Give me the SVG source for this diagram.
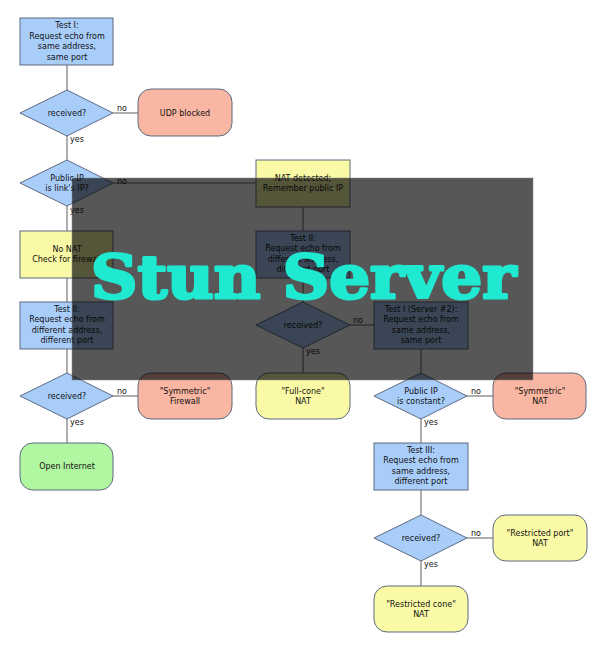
<svg xmlns="http://www.w3.org/2000/svg" width="600" height="660" viewBox="0 0 600 660">
<style>
.b{stroke:#5d6b80;stroke-width:1}
.blue{fill:#a9cdf9}
.red{fill:#f9b6a2}
.yel{fill:#fafaa6}
.grn{fill:#b1f6a1}
.t{font-family:"DejaVu Sans",Verdana,sans-serif;font-size:8px;fill:#111;text-anchor:middle}
.l{font-family:"DejaVu Sans",Verdana,sans-serif;font-size:8px;fill:#111}
.c line{stroke:#777;stroke-width:1.2}
</style>
<rect width="600" height="660" fill="#fff"/>
<g class="c" id="connectors">
<line x1="67" y1="65" x2="67" y2="90"/>
<line x1="113" y1="113" x2="138" y2="113"/>
<line x1="67" y1="136" x2="67" y2="160"/>
<line x1="113" y1="183" x2="256" y2="183"/>
<line x1="67" y1="206" x2="67" y2="231"/>
<line x1="67" y1="277" x2="67" y2="302"/>
<line x1="67" y1="348" x2="67" y2="373"/>
<line x1="113" y1="396" x2="138" y2="396"/>
<line x1="67" y1="419" x2="67" y2="443"/>
<line x1="303" y1="207" x2="303" y2="231"/>
<line x1="303" y1="278" x2="303" y2="302"/>
<line x1="350" y1="325" x2="374" y2="325"/>
<line x1="303" y1="348" x2="303" y2="373"/>
<line x1="421" y1="349" x2="421" y2="373"/>
<line x1="467" y1="396" x2="493" y2="396"/>
<line x1="421" y1="419" x2="421" y2="443"/>
<line x1="421" y1="490" x2="421" y2="515"/>
<line x1="467" y1="538" x2="493" y2="538"/>
<line x1="421" y1="561" x2="421" y2="586"/>
<text class="l" x="117" y="111">no</text>
<text class="l" x="70" y="142">yes</text>
<text class="l" x="117" y="184">no</text>
<text class="l" x="70" y="213">yes</text>
<text class="l" x="117" y="394">no</text>
<text class="l" x="70" y="425">yes</text>
<text class="l" x="353" y="323">no</text>
<text class="l" x="306" y="354">yes</text>
<text class="l" x="471" y="394">no</text>
<text class="l" x="424" y="425">yes</text>
<text class="l" x="471" y="536">no</text>
<text class="l" x="424" y="567">yes</text>
</g>
<g id="test1"><rect class="b blue" x="20" y="18" width="93" height="47"/>
<text class="t" x="67" y="28">Test I:</text><text class="t" x="67" y="39">Request echo from</text><text class="t" x="67" y="49">same address,</text><text class="t" x="67" y="60">same port</text></g>
<g id="recv1"><polygon class="b blue" points="20,113 67,90 113,113 67,136"/><text class="t" x="67" y="116">received?</text></g>
<g id="udp"><rect class="b red" x="138" y="89" width="94" height="47" rx="13"/><text class="t" x="185" y="116">UDP blocked</text></g>
<g id="pubip"><polygon class="b blue" points="20,183 67,160 113,183 67,206"/><text class="t" x="67" y="181">Public IP</text><text class="t" x="67" y="191">is link's IP?</text></g>
<g id="nonat"><rect class="b yel" x="20" y="231" width="93" height="47"/><text class="t" x="67" y="252">No NAT</text><text class="t" x="67" y="262">Check for firewall</text></g>
<g id="test2a"><rect class="b blue" x="20" y="302" width="93" height="47"/>
<text class="t" x="67" y="312">Test II:</text><text class="t" x="67" y="322">Request echo from</text><text class="t" x="67" y="333">different address,</text><text class="t" x="67" y="343">different port</text></g>
<g id="recv2"><polygon class="b blue" points="20,396 67,373 113,396 67,419"/><text class="t" x="67" y="399">received?</text></g>
<g id="symfw"><rect class="b red" x="138" y="373" width="94" height="46" rx="13"/><text class="t" x="185" y="394">"Symmetric"</text><text class="t" x="185" y="404">Firewall</text></g>
<g id="open"><rect class="b grn" x="20" y="443" width="93" height="47" rx="13"/><text class="t" x="67" y="469">Open Internet</text></g>
<g id="natdet"><rect class="b yel" x="256" y="160" width="94" height="47"/><text class="t" x="303" y="181">NAT detected;</text><text class="t" x="303" y="191">Remember public IP</text></g>
<g id="test2b"><rect class="b blue" x="256" y="231" width="94" height="47"/>
<text class="t" x="303" y="241">Test II:</text><text class="t" x="303" y="251">Request echo from</text><text class="t" x="303" y="262">different address,</text><text class="t" x="303" y="272">different port</text></g>
<g id="recv3"><polygon class="b blue" points="256,325 303,302 350,325 303,348"/><text class="t" x="303" y="328">received?</text></g>
<g id="fullcone"><rect class="b yel" x="256" y="373" width="94" height="46" rx="13"/><text class="t" x="303" y="394">"Full-cone"</text><text class="t" x="303" y="404">NAT</text></g>
<g id="test1s2"><rect class="b blue" x="374" y="302" width="94" height="47"/>
<text class="t" x="421" y="312">Test I (Server #2):</text><text class="t" x="421" y="322">Request echo from</text><text class="t" x="421" y="333">same address,</text><text class="t" x="421" y="343">same port</text></g>
<g id="pubconst"><polygon class="b blue" points="374,396 421,373 467,396 421,419"/><text class="t" x="421" y="394">Public IP</text><text class="t" x="421" y="404">is constant?</text></g>
<g id="symnat"><rect class="b red" x="493" y="373" width="93" height="46" rx="13"/><text class="t" x="540" y="394">"Symmetric"</text><text class="t" x="540" y="404">NAT</text></g>
<g id="test3"><rect class="b blue" x="374" y="443" width="94" height="47"/>
<text class="t" x="421" y="453">Test III:</text><text class="t" x="421" y="463">Request echo from</text><text class="t" x="421" y="474">same address,</text><text class="t" x="421" y="484">different port</text></g>
<g id="recv4"><polygon class="b blue" points="374,538 421,515 467,538 421,561"/><text class="t" x="421" y="541">received?</text></g>
<g id="rport"><rect class="b yel" x="493" y="515" width="94" height="46" rx="13"/><text class="t" x="540" y="536">"Restricted port"</text><text class="t" x="540" y="546">NAT</text></g>
<g id="rcone"><rect class="b yel" x="374" y="586" width="94" height="46" rx="13"/><text class="t" x="421" y="607">"Restricted cone"</text><text class="t" x="421" y="617">NAT</text></g>
<g id="overlay">
<rect x="72" y="178" width="461" height="202" fill="#000" fill-opacity="0.66" stroke="#888" stroke-opacity="0.5" stroke-width="1"/>
<text x="91" y="298" font-family="'DejaVu Serif',serif" font-weight="bold" font-size="60" fill="#20e9d2" stroke="#20e9d2" stroke-width="3" stroke-linejoin="round" textLength="425" lengthAdjust="spacingAndGlyphs">Stun Server</text>
</g>
</svg>
